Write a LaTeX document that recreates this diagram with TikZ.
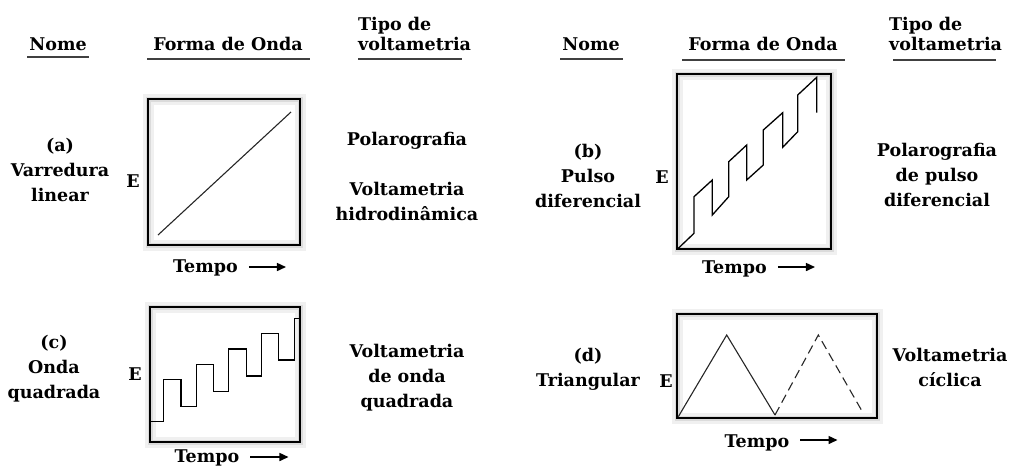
\documentclass[tikz,border=0pt]{standalone}
\usepackage{fontspec}
\setmainfont{DejaVu Serif}
\usetikzlibrary{arrows.meta}
\begin{document}
\begin{tikzpicture}[x=1pt,y=-1pt,
  lbl/.style={font=\bfseries\fontsize{17.5}{25}\selectfont, inner sep=0pt, align=center},
  hdr/.style={font=\bfseries\fontsize{17.5}{20}\selectfont, inner sep=0pt, align=left},
  uline/.style={line width=1.8pt, black!75},
  wbox/.style={draw=black, line width=1.5pt, inner sep=0pt,
    preaction={draw=black!6, line width=11pt},
    preaction={draw=black!14, line width=5pt}},
  wave/.style={line width=1.3pt, black},
  tarrow/.style={line width=1.5pt, -{Triangle[length=9pt,width=8pt]}}]
\useasboundingbox (0,0) rectangle (1011,467);
% headers left
\node[lbl, anchor=base] (h1) at (58,50) {Nome};
\node[lbl, anchor=base] (h2) at (228,50) {Forma de Onda};
\node[hdr, anchor=west] (h3) at (358,34) {Tipo de\\voltametria};
\draw[uline] (27,57) -- (89,57);
\draw[uline] (147,59) -- (310,59);
\draw[uline] (358,59) -- (462,59);
% headers right
\node[lbl, anchor=base] (h4) at (591,50) {Nome};
\node[lbl, anchor=base] (h5) at (763,50) {Forma de Onda};
\node[hdr, anchor=west] (h6) at (889,34) {Tipo de\\voltametria};
\draw[uline] (560,59) -- (623,59);
\draw[uline] (682,60) -- (845,60);
\draw[uline] (893,60) -- (996,60);
% (a)
\node[wbox, minimum width=152pt, minimum height=146pt] (ba) at (224,172) {};
\draw[line width=1.1pt, black!85] (158,235) -- (291,112);
\node[lbl] (na) at (60,170) {(a)\\Varredura\\linear};
\node[lbl] (ea) at (133,181) {E};
\node[lbl, anchor=base] (ta) at (205.5,272) {Tempo};
\draw[tarrow] ([xshift=11pt]ta.east |- 0,267) -- ++(37,0);
\node[lbl, anchor=base] (pa) at (407,145) {Polarografia};
\node[lbl] (va) at (407,201) {Voltametria\\hidrodinâmica};
% (b)
\node[wbox, minimum width=154pt, minimum height=175pt] (bb) at (754,161.5) {};
\draw[wave] (678.3,248.3) -- (694,233.3) -- (694,196.7) -- (712.3,180) -- (712.3,215)
  -- (728.7,196.7) -- (728.7,161.7) -- (746.7,145) -- (746.7,180) -- (763.3,165)
  -- (763.3,130) -- (782.7,112.7) -- (782.7,147.3) -- (797.7,131.7) -- (797.7,95)
  -- (816.7,77.3) -- (816.7,112.7);
\node[lbl] (nb) at (588,175.5) {(b)\\Pulso\\diferencial};
\node[lbl] (eb) at (662,177) {E};
\node[lbl, anchor=base] (tb) at (734.5,273) {Tempo};
\draw[tarrow] ([xshift=11pt]tb.east |- 0,267) -- ++(37,0);
\node[lbl] (pb) at (937,175) {Polarografia\\de pulso\\diferencial};
% (c)
\node[wbox, minimum width=150pt, minimum height=135pt] (bc) at (225,374.5) {};
\draw[wave] (150,421.7) -- (163.3,421.7) -- (163.3,379.3) -- (181,379.3) -- (181,406.7)
  -- (196.7,406.7) -- (196.7,364.3) -- (213.3,364.3) -- (213.3,391.7) -- (228.7,391.7)
  -- (228.7,349) -- (246.7,349) -- (246.7,376) -- (261.7,376) -- (261.7,333.3)
  -- (278.3,333.3) -- (278.3,360) -- (294.3,360) -- (294.3,318.3) -- (300,318.3);
\node[lbl] (nc) at (54,368.5) {(c)\\Onda\\quadrada};
\node[lbl] (ec) at (135,374) {E};
\node[lbl, anchor=base] (tc) at (207,462) {Tempo};
\draw[tarrow] ([xshift=11pt]tc.east |- 0,457) -- ++(38,0);
\node[lbl] (vc) at (407,377.5) {Voltametria\\de onda\\quadrada};
% (d)
\node[wbox, minimum width=200pt, minimum height=104pt] (bd) at (777,366) {};
\draw[line width=1.1pt, black!85] (678.3,416.7) -- (726.7,335) -- (775,415);
\draw[line width=1.1pt, black!85, dash pattern=on 9pt off 5pt] (775,415) -- (818.3,335) -- (863.3,413.3);
\node[lbl] (nd) at (588,369) {(d)\\Triangular};
\node[lbl] (ed) at (666,381) {E};
\node[lbl, anchor=base] (td) at (757,447) {Tempo};
\draw[tarrow] ([xshift=11pt]td.east |- 0,440) -- ++(37,0);
\node[lbl] (vd) at (950,367.5) {Voltametria\\cíclica};
\end{tikzpicture}
\end{document}
